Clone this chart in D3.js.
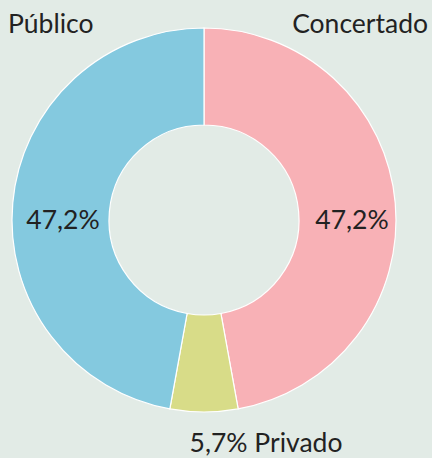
<!DOCTYPE html>
<html>
<head>
<meta charset="utf-8">
<script src="https://cdn.jsdelivr.net/npm/d3@7"></script>
<style>
  body { margin: 0; background: #e2ebe6; }
  svg { display: block; font-family: Lato, sans-serif; }
</style>
</head>
<body>
<svg width="432" height="458"></svg>
<script>
let categories = ["Concertado", "Privado", "Público"];
let values = [47.2, 5.7, 47.2];
let valueLabels = ["47,2%", "5,7%", "47,2%"];
let colors = ["#f8b1b6", "#d8dc88", "#84c9df"];

let svg = d3.select("svg"),
    width = +svg.attr("width"),
    height = +svg.attr("height");

svg.append("rect").attr("width", width).attr("height", height).attr("fill", "#e2ebe6");

let cx = 204, cy = 220, outerR = 192, innerR = 95;
let fontSize = 26.5;

let g = svg.append("g").attr("transform", `translate(${cx},${cy})`);

let pie = d3.pie().sort(null).value(d => d);
let arc = d3.arc().innerRadius(innerR).outerRadius(outerR);
let arcs = pie(values);

g.selectAll("path")
    .data(arcs)
    .enter().append("path")
    .attr("d", arc)
    .attr("fill", (d, i) => colors[i])
    .attr("stroke", "#fff")
    .attr("stroke-width", 1.2);

// percent labels inside the two big slices
g.append("text")
    .attr("x", 148).attr("y", 9)
    .attr("text-anchor", "middle")
    .attr("font-size", fontSize).attr("fill", "#222")
    .text(valueLabels[0]);

g.append("text")
    .attr("x", -141).attr("y", 9)
    .attr("text-anchor", "middle")
    .attr("font-size", fontSize).attr("fill", "#222")
    .text(valueLabels[2]);

// category labels
svg.append("text")
    .attr("x", 428).attr("y", 33)
    .attr("text-anchor", "end")
    .attr("font-size", fontSize).attr("fill", "#222")
    .text(categories[0]);

svg.append("text")
    .attr("x", 8).attr("y", 33)
    .attr("font-size", fontSize).attr("fill", "#222")
    .text(categories[2]);

svg.append("text")
    .attr("x", 266).attr("y", 452)
    .attr("text-anchor", "middle")
    .attr("font-size", fontSize).attr("fill", "#222")
    .text(valueLabels[1] + " " + categories[1]);
</script>
</body>
</html>
